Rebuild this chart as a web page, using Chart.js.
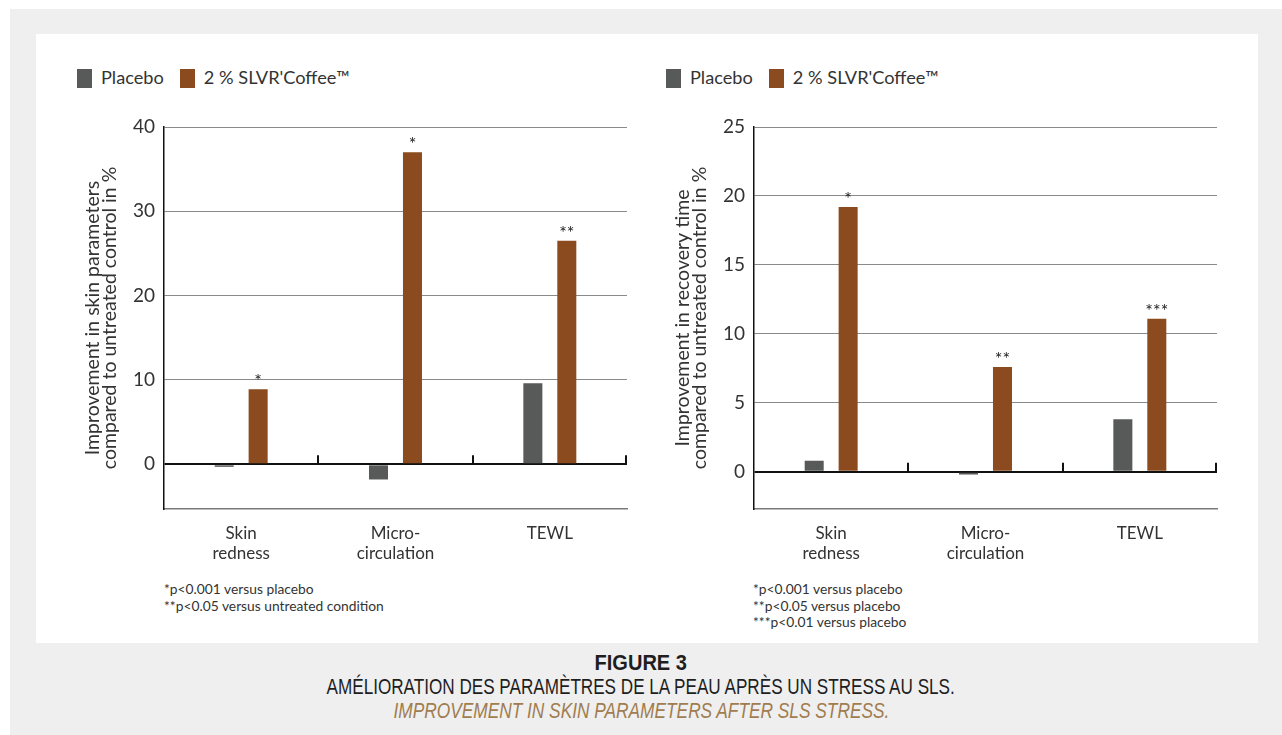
<!DOCTYPE html>
<html>
<head>
<meta charset="utf-8">
<script src="https://cdn.jsdelivr.net/npm/chart.js@4"></script>
<style>
  body { margin: 0; background: #fff; font-family: Lato, "Open Sans", sans-serif; color: #333; }
  #fondo { position: absolute; left: 10px; top: 9px; right: 0; bottom: 0; background: #efefef; }
  #panel { position: absolute; left: 36px; top: 34px; width: 1222px; height: 609px; background: #fff; }
  canvas { position: absolute; }
  .leyenda { position: absolute; top: 66px; font-size: 18.2px; white-space: nowrap; }
  .leyenda span.caja { display: inline-block; width: 15px; height: 19px; vertical-align: -4px; margin-right: 9px; }
  .leyenda span.txt { margin-right: 16px; }
  .notas { position: absolute; font-size: 13.8px; line-height: 16.5px; color: #333; }
  .pie { position: absolute; left: 0; width: 1282px; text-align: center; font-family: "Liberation Sans", Arial, sans-serif; font-size: 22px; line-height: 24px; }
  .pie span { display: inline-block; white-space: nowrap; transform-origin: center; }
</style>
</head>
<body>
<div id="fondo"></div>
<div id="panel"></div>

<div class="leyenda" style="left:77px"><span class="caja" style="background:#575a59"></span><span class="txt">Placebo</span><span class="caja" style="background:#8b4b1e"></span><span class="txt">2 % SLVR'Coffee™</span></div>
<div class="leyenda" style="left:666px"><span class="caja" style="background:#575a59"></span><span class="txt">Placebo</span><span class="caja" style="background:#8b4b1e"></span><span class="txt">2 % SLVR'Coffee™</span></div>

<canvas id="graficaPiel" width="580" height="480" style="left:60px;top:100px"></canvas>
<canvas id="graficaRecuperacion" width="580" height="480" style="left:650px;top:100px"></canvas>

<div class="notas" style="left:164px;top:581px">*p&lt;0.001 versus placebo<br>**p&lt;0.05 versus untreated condition</div>
<div class="notas" style="left:753px;top:581px">*p&lt;0.001 versus placebo<br>**p&lt;0.05 versus placebo<br>***p&lt;0.01 versus placebo</div>

<div class="pie" style="top:651px"><span data-ancho="92" style="font-weight:bold;color:#1e1e1e">FIGURE 3</span></div>
<div class="pie" style="top:675px"><span data-ancho="628" style="color:#1e1e1e">AMÉLIORATION DES PARAMÈTRES DE LA PEAU APRÈS UN STRESS AU SLS.</span></div>
<div class="pie" style="top:699px"><span data-ancho="496" style="font-style:italic;color:#a07c4e">IMPROVEMENT IN SKIN PARAMETERS AFTER SLS STRESS.</span></div>

<script>
// datos
const categorias = [["Skin", "redness"], ["Micro-", "circulation"], "TEWL"];

const pielPlacebo = [-0.3, -1.8, 9.6];
const pielCafe = [8.9, 37.0, 26.5];
const pielEstrellas = ["*", "*", "**"];
const pielTicks = [0, 10, 20, 30, 40];

const recPlacebo = [0.8, -0.2, 3.8];
const recCafe = [19.2, 7.6, 11.1];
const recEstrellas = ["*", "**", "***"];
const recTicks = [0, 5, 10, 15, 20, 25];

const colorPlacebo = "#575a59";
const colorCafe = "#8b4b1e";
const colorTexto = "#333";

// marcas cortas sobre la linea del cero entre categorias + asteriscos
const pluginMarcas = {
    id: "marcas",
    afterDatasetsDraw(chart, args, opts) {
        const ctx = chart.ctx;
        const x = chart.scales.x;
        const y = chart.scales.y;
        const y0 = y.getPixelForValue(0);
        ctx.save();
        ctx.strokeStyle = "#111";
        ctx.lineWidth = 2;
        for (let i = 1; i <= categorias.length; i++) {
            let px = i < categorias.length
                ? (x.getPixelForValue(i - 1) + x.getPixelForValue(i)) / 2
                : chart.chartArea.right - 1;
            px = Math.round(px);
            ctx.beginPath();
            ctx.moveTo(px, y0);
            ctx.lineTo(px, y0 - 9);
            ctx.stroke();
        }
        ctx.fillStyle = "#222";
        ctx.font = "18px Lato, sans-serif";
        ctx.textAlign = "center";
        ctx.textBaseline = "bottom";
        chart.getDatasetMeta(1).data.forEach((barra, i) => {
            ctx.fillText(opts.estrellas[i], barra.x, barra.y + 1);
        });
        ctx.restore();
    }
};

function crearGrafica(id, placebo, cafe, estrellas, ticks, min, max, titulo) {
    const ctx = document.getElementById(id).getContext("2d");
    return new Chart(ctx, {
        type: "bar",
        data: {
            labels: categorias,
            datasets: [{
                label: "Placebo",
                data: placebo,
                backgroundColor: colorPlacebo,
                categoryPercentage: 0.44,
                barPercentage: 0.56
            }, {
                label: "2 % SLVR'Coffee™",
                data: cafe,
                backgroundColor: colorCafe,
                categoryPercentage: 0.44,
                barPercentage: 0.56
            }]
        },
        options: {
            responsive: false,
            animation: false,
            layout: { padding: { top: 27, right: 13, left: 0, bottom: 0 } },
            plugins: {
                legend: { display: false },
                tooltip: { enabled: false },
                marcas: { estrellas: estrellas }
            },
            scales: {
                x: {
                    grid: { display: false },
                    border: { display: true, color: "#7a7a7a", width: 1.5 },
                    ticks: {
                        color: colorTexto,
                        font: { family: "Lato", size: 17, lineHeight: 1.2 },
                        padding: 6,
                        maxRotation: 0
                    },
                    afterFit: scale => { scale.height = 71; }
                },
                y: {
                    min: min,
                    max: max,
                    afterBuildTicks: scale => { scale.ticks = ticks.map(v => ({ value: v })); },
                    grid: {
                        drawTicks: false,
                        color: c => c.tick && c.tick.value === 0 ? "#111" : "#8a8a8a",
                        lineWidth: c => c.tick && c.tick.value === 0 ? 2 : 1
                    },
                    border: { display: true, color: "#111", width: 1.5 },
                    ticks: {
                        color: colorTexto,
                        font: { family: "Lato", size: 19 },
                        padding: 9
                    },
                    title: {
                        display: true,
                        text: titulo,
                        color: colorTexto,
                        font: { family: "Lato", size: 19.5, lineHeight: 0.88 },
                        padding: { top: 24, bottom: 0 }
                    },
                    afterFit: scale => { scale.width = 104; }
                }
            }
        },
        plugins: [pluginMarcas]
    });
}

// el pie de figura usa letra estrecha: se comprime al ancho del original
function ajustarPie() {
    document.querySelectorAll(".pie span").forEach(el => {
        const objetivo = parseFloat(el.dataset.ancho);
        el.style.transform = "scaleX(" + (objetivo / el.offsetWidth) + ")";
    });
}

document.addEventListener("DOMContentLoaded", function() {
    ajustarPie();
    crearGrafica("graficaPiel", pielPlacebo, pielCafe, pielEstrellas, pielTicks, -5.3, 40,
        ["Improvement in skin parameters", "compared to untreated control in %"]);
    crearGrafica("graficaRecuperacion", recPlacebo, recCafe, recEstrellas, recTicks, -2.7, 25,
        ["Improvement in recovery time", "compared to untreated control in %"]);
});
</script>
</body>
</html>
